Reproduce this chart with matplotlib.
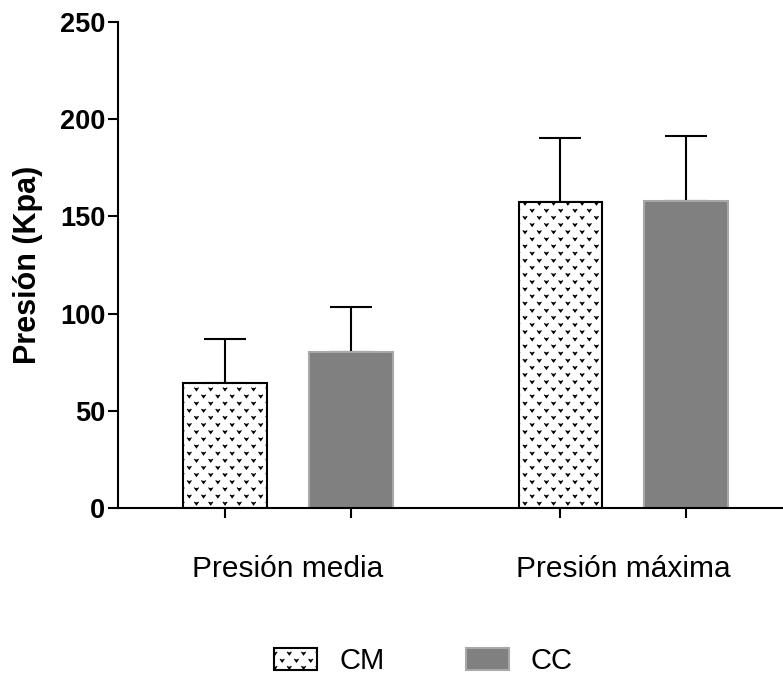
import numpy as np
import matplotlib.pyplot as plt
import matplotlib.hatch as mhatch
from matplotlib.path import Path

plt.rcParams['font.family'] = ['Liberation Sans', 'DejaVu Sans']
plt.rcParams['hatch.linewidth'] = 0.8

# Mean pressure and SD per measurement, for each group
groups = ['Presión media', 'Presión máxima']
series = ['CM', 'CC']
cm_mean = [64.5, 157.5]
cm_sd = [22.5, 33.0]
cc_mean = [80.0, 158.0]
cc_sd = [23.5, 33.5]


class SmallChevrons(mhatch.HatchPatternBase):
    """Staggered little 'v' marks, used in place of the '.' hatch."""
    n_rows = 14
    n_cols = 7
    half_w = 0.018
    half_h = 0.013

    def __init__(self, hatch, density):
        self.count = hatch.count('.')
        if self.count:
            self.n_marks = self.n_rows * self.n_cols
            self.num_vertices = self.n_marks * 3
        else:
            self.num_vertices = 0

    def set_vertices_and_codes(self, vertices, codes):
        pts = []
        for r in range(self.n_rows):
            y = (r + 0.5) / self.n_rows
            shift = 0.5 if r % 2 else 0.0
            for c in range(self.n_cols):
                x = (c + 0.25 + shift) / self.n_cols
                pts.append((x, y))
        k = 0
        for x, y in pts:
            vertices[k] = (x - self.half_w, y + self.half_h)
            vertices[k + 1] = (x, y - self.half_h)
            vertices[k + 2] = (x + self.half_w, y + self.half_h)
            codes[k] = Path.MOVETO
            codes[k + 1] = Path.LINETO
            codes[k + 2] = Path.LINETO
            k += 3


mhatch._hatch_types = [SmallChevrons if t is mhatch.SmallFilledCircles else t
                       for t in mhatch._hatch_types]

fig = plt.figure(figsize=(7.83, 6.77), dpi=100)
ax = fig.add_axes([0.1507, 0.2496, 0.8493, 0.7179])

gap = 4.0
width = 1.0
centers = np.arange(len(groups)) * gap
x_cm = centers - 0.75
x_cc = centers + 0.75

ax.bar(x_cm, cm_mean, width, color='white', edgecolor='black',
       linewidth=1.5, hatch='.', label=series[0], zorder=2)
ax.bar(x_cc, cc_mean, width, color='#808080', edgecolor='#a8a8a8',
       linewidth=1.5, label=series[1], zorder=2)

# upper error bars only
for x, m, s in [(x_cm, cm_mean, cm_sd), (x_cc, cc_mean, cc_sd)]:
    ax.errorbar(x, m, yerr=[np.zeros(len(s)), s], fmt='none',
                ecolor='black', elinewidth=1.5, capsize=15,
                capthick=1.5, zorder=1)

ax.set_xlim(-2.02, 5.9)
ax.set_ylim(0, 250)
ax.set_yticks(np.arange(0, 251, 50))
ax.set_ylabel('Presión (Kpa)', fontsize=22, fontweight='bold', labelpad=12)

for lbl in ax.get_yticklabels():
    lbl.set_fontweight('bold')
ax.tick_params(axis='y', labelsize=19.5, length=7, width=1.5, pad=2)

# ticks under each bar, group names centred below
ax.set_xticks(np.concatenate([x_cm, x_cc]))
ax.set_xticklabels([])
ax.tick_params(axis='x', which='major', length=7, width=1.5)
ax.set_xticks(centers, groups, minor=True)
ax.tick_params(axis='x', which='minor', length=0, pad=34, labelsize=21.5)

for side in ['top', 'right']:
    ax.spines[side].set_visible(False)
for side in ['left', 'bottom']:
    ax.spines[side].set_linewidth(1.5)

fig.legend(loc='center', bbox_to_anchor=(0.541, 0.0236), ncol=2,
           frameon=False, fontsize=21, handlelength=1.47, handleheight=0.82,
           handletextpad=0.75, columnspacing=2.8)

fig.savefig('out.png', dpi=100)
